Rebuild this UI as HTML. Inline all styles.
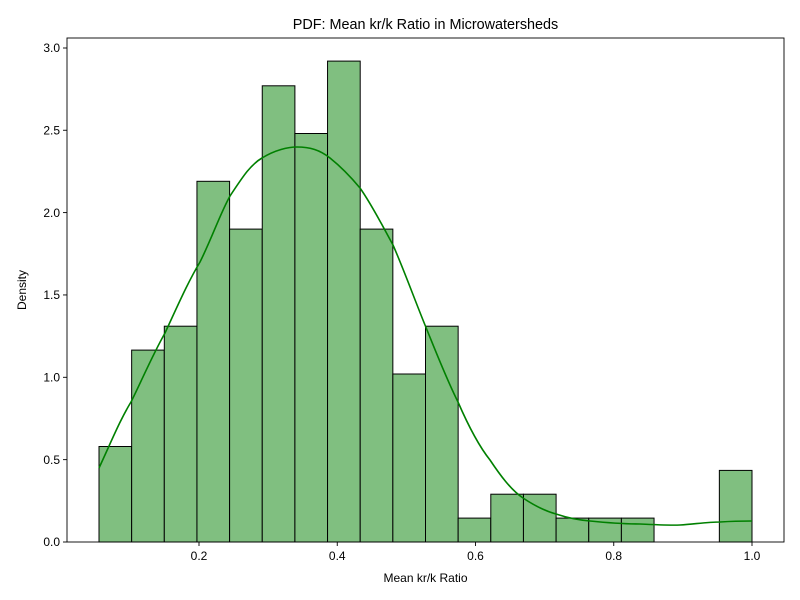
<!DOCTYPE html>
<html><head><meta charset="utf-8"><style>body{margin:0;background:#fff}svg{display:block}text{font-family:"Liberation Sans","DejaVu Sans",sans-serif;fill:#000}</style></head>
<body>
<svg width="800" height="600" viewBox="0 0 800 600" xmlns="http://www.w3.org/2000/svg">
<rect width="800" height="600" fill="#fff"/>
<g fill="#80bf80" stroke="#000" stroke-width="1">
<rect x="99" y="446.5" width="32.65" height="95.5"/>
<rect x="131.65" y="350.1" width="32.65" height="191.9"/>
<rect x="164.3" y="326.2" width="32.65" height="215.8"/>
<rect x="196.95" y="181.3" width="32.65" height="360.7"/>
<rect x="229.6" y="229.1" width="32.65" height="312.9"/>
<rect x="262.25" y="85.8" width="32.65" height="456.2"/>
<rect x="294.9" y="133.5" width="32.65" height="408.5"/>
<rect x="327.55" y="61.1" width="32.65" height="480.9"/>
<rect x="360.2" y="229.1" width="32.65" height="312.9"/>
<rect x="392.85" y="374" width="32.65" height="168"/>
<rect x="425.5" y="326.2" width="32.65" height="215.8"/>
<rect x="458.15" y="518.1" width="32.65" height="23.9"/>
<rect x="490.8" y="494.2" width="32.65" height="47.8"/>
<rect x="523.45" y="494.2" width="32.65" height="47.8"/>
<rect x="556.1" y="518.1" width="32.65" height="23.9"/>
<rect x="588.75" y="518.1" width="32.65" height="23.9"/>
<rect x="621.4" y="518.1" width="32.65" height="23.9"/>
<rect x="719.35" y="470.4" width="32.65" height="71.6"/>
</g>
<path d="M99,468 C112,440 120,420 131,402 C142,380 152,356 165,333 C178,305 188,282 200,262 C212,238 220,214 230,196 C242,178 250,165 262,158 C275,150 288,147 297,147 C310,147 320,150 330,158 C340,166 350,176 360,188 C372,205 382,225 393,245 C404,270 414,298 425,325 C436,352 446,378 458,402 C468,425 478,445 490,460 C500,475 511,490 523,498 C535,506 545,511 556,514 C568,518 578,520 590,521 C610,523 625,524 640,524 C660,525 670,525.5 680,525 C695,524 708,522 720,522 C735,521 745,521 752,521" fill="none" stroke="#008000" stroke-width="1.6"/>
<rect x="67" y="38" width="717" height="504" fill="none" stroke="#000" stroke-width="0.9"/>
<g stroke="#000" stroke-width="0.9">
<line x1="199" y1="542" x2="199" y2="546"/><line x1="337.25" y1="542" x2="337.25" y2="546"/><line x1="475.5" y1="542" x2="475.5" y2="546"/><line x1="613.75" y1="542" x2="613.75" y2="546"/><line x1="752" y1="542" x2="752" y2="546"/>
<line x1="63" y1="542" x2="67" y2="542"/><line x1="63" y1="459.65" x2="67" y2="459.65"/><line x1="63" y1="377.3" x2="67" y2="377.3"/><line x1="63" y1="294.95" x2="67" y2="294.95"/><line x1="63" y1="212.6" x2="67" y2="212.6"/><line x1="63" y1="130.25" x2="67" y2="130.25"/><line x1="63" y1="48" x2="67" y2="48"/>
</g>
<g font-size="12" text-anchor="middle">
<text x="199" y="560">0.2</text><text x="337.25" y="560">0.4</text><text x="475.5" y="560">0.6</text><text x="613.75" y="560">0.8</text><text x="752" y="560">1.0</text>
</g>
<g font-size="12" text-anchor="end">
<text x="60" y="546">0.0</text><text x="60" y="464">0.5</text><text x="60" y="381.5">1.0</text><text x="60" y="299">1.5</text><text x="60" y="217">2.0</text><text x="60" y="134.5">2.5</text><text x="60" y="52">3.0</text>
</g>
<text x="425.5" y="582" font-size="12" text-anchor="middle">Mean kr/k Ratio</text>
<text x="26" y="290" font-size="12" text-anchor="middle" transform="rotate(-90 26 290)">Density</text>
<text x="425.5" y="29" font-size="14.4" text-anchor="middle">PDF: Mean kr/k Ratio in Microwatersheds</text>
</svg>
</body></html>
